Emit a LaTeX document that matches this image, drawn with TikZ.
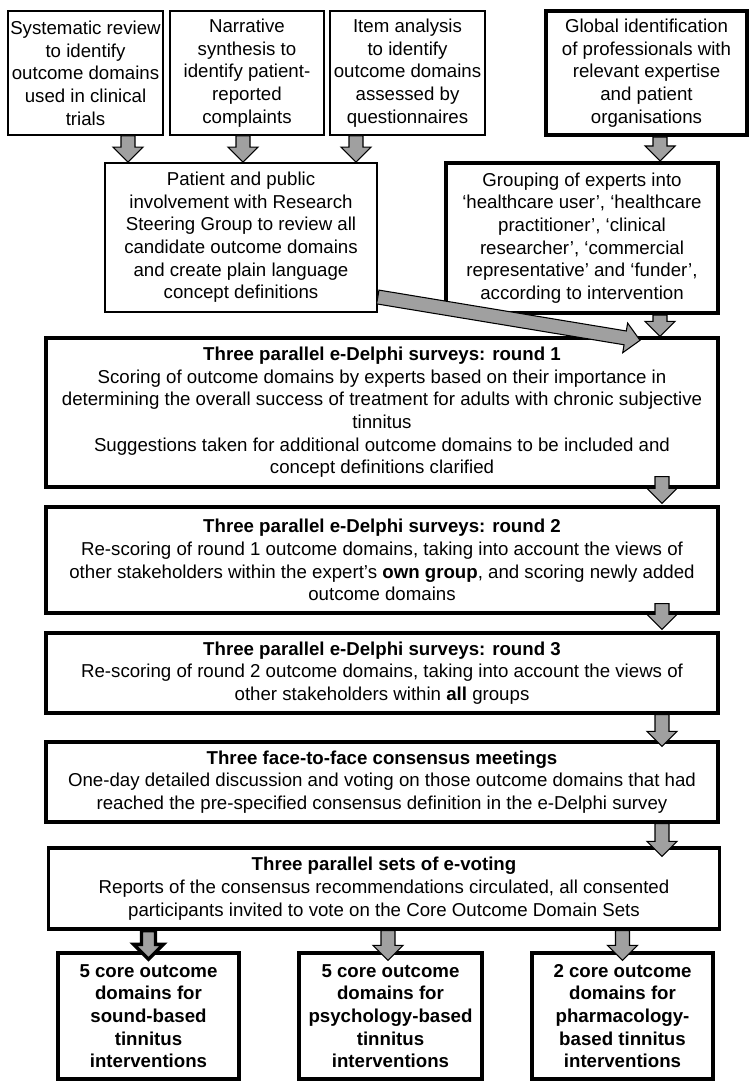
\documentclass[tikz,border=0pt]{standalone}
\usepackage{fontspec}
\setmainfont{Liberation Sans}
\usetikzlibrary{calc}
\definecolor{arrgray}{RGB}{160,160,160}

\begin{document}
\begin{tikzpicture}[x=0.75pt, y=-0.75pt,
    font=\fontsize{14}{17}\selectfont,
    thinbox/.style={draw, line width=1.2pt, align=center, inner sep=0pt, minimum width=#1},
    boldbox/.style={draw, line width=3pt, align=center, inner sep=0pt, minimum width=#1},
    stagebox/.style={draw, line width=2.5pt, align=center, inner sep=0pt, minimum width=#1},
    setbox/.style={draw, line width=2.5pt, align=center, inner sep=0pt, minimum width=#1,
        minimum height=94.5pt, font=\fontsize{14}{17}\selectfont\bfseries},
    blockarrow/.style={draw=black, fill=arrgray, line width=0.8pt, line join=miter,
        to path={let \p1=($(\tikztotarget)-(\tikztostart)$), \n1={atan2(\y1,\x1)},
            \n2={veclen(\x1,\y1)-11.25}, \n3={\n1+90}, \n4={\n1-90} in
            ($(\tikztostart)+(\n3:5.25pt)$)
            -- ($(\tikztostart)+(\n1:{\n2*1pt})+(\n3:5.25pt)$)
            -- ($(\tikztostart)+(\n1:{\n2*1pt})+(\n3:11.25pt)$)
            -- (\tikztotarget)
            -- ($(\tikztostart)+(\n1:{\n2*1pt})+(\n4:11.25pt)$)
            -- ($(\tikztostart)+(\n1:{\n2*1pt})+(\n4:5.25pt)$)
            -- ($(\tikztostart)+(\n4:5.25pt)$) -- cycle}}]
    \useasboundingbox (0,0) rectangle (755,1087);

    % Fonti per i domini
    \node[thinbox=116.25pt, minimum height=93pt] (sysrev) at (85.5,73) {Systematic review\\to identify\\outcome domains\\used in clinical\\trials};
    \node[thinbox=115.5pt, minimum height=93pt] (narr) at (247,73) {Narrative\\synthesis to\\identify patient-\\reported\\complaints};
    \node[thinbox=116.25pt, minimum height=93pt] (item) at (407.5,73) {Item analysis\\to identify\\outcome domains\\assessed by\\questionnaires};
    \node[boldbox=150.75pt, minimum height=93pt] (glob) at (646.5,73) {Global identification\\of professionals with\\relevant expertise\\and patient\\organisations};

    % Revisione e gruppi di esperti
    \node[thinbox=204pt, minimum height=111.75pt] (ppi) at (241,237.5) {Patient and public\\involvement with Research\\Steering Group to review all\\candidate outcome domains\\and create plain language\\concept definitions};
    \node[boldbox=204pt, minimum height=112.5pt] (group) at (582,238) {Grouping of experts into\\‘healthcare user’, ‘healthcare\\practitioner’, ‘clinical\\researcher’, ‘commercial\\representative’ and ‘funder’,\\according to intervention};

    % Fasi del consenso
    \node[stagebox=504pt, minimum height=111.75pt] (round1) at (382,412.5) {\textbf{Three parallel e-Delphi surveys: round 1}\\Scoring of outcome domains by experts based on their importance in\\determining the overall success of treatment for adults with chronic subjective\\tinnitus\\Suggestions taken for additional outcome domains to be included and\\concept definitions clarified};
    \node[stagebox=504pt, minimum height=79.5pt] (round2) at (382,560) {\textbf{Three parallel e-Delphi surveys: round 2}\\Re-scoring of round 1 outcome domains, taking into account the views of\\other stakeholders within the expert’s \textbf{own group}, and scoring newly added\\outcome domains};
    \node[stagebox=504pt, minimum height=60pt] (round3) at (382,673) {\textbf{Three parallel e-Delphi surveys: round 3}\\Re-scoring of round 2 outcome domains, taking into account the views of\\other stakeholders within \textbf{all} groups};
    \node[stagebox=504pt, minimum height=60pt] (meet) at (382,782) {\textbf{Three face-to-face consensus meetings}\\One-day detailed discussion and voting on those outcome domains that had\\reached the pre-specified consensus definition in the e-Delphi survey};
    \node[stagebox=503.25pt, minimum height=60.75pt] (vote) at (384,888.5) {\textbf{Three parallel sets of e-voting}\\Reports of the consensus recommendations circulated, all consented\\participants invited to vote on the Core Outcome Domain Sets};

    % Set finali
    \node[setbox=135.75pt] (sound) at (148.5,1016) {5 core outcome\\domains for\\sound-based\\tinnitus\\interventions};
    \node[setbox=137.25pt] (psych) at (390.5,1016) {5 core outcome\\domains for\\psychology-based\\tinnitus\\interventions};
    \node[setbox=135.75pt] (pharm) at (622.5,1016) {2 core outcome\\domains for\\pharmacology-\\based tinnitus\\interventions};

    % Frecce
    \draw[blockarrow] (sysrev.south -| 128,0) to (ppi.north -| 128,0);
    \draw[blockarrow] (narr.south -| 243,0) to (ppi.north -| 243,0);
    \draw[blockarrow] (item.south -| 356,0) to (ppi.north -| 356,0);
    \draw[blockarrow] (glob.south -| 660,0) to (group.north -| 660,0);
    \draw[blockarrow] (group.south -| 660,0) to (round1.north -| 660,0);
    \draw[blockarrow] (ppi.east |- 0,297) to ($(round1.north -| 640,0)+(0,4)$);
    \foreach \a/\b/\s/\t in {round1/round2/-12/-2, round2/round3/-11/-2, round3/meet/0/6, meet/vote/0/10}
        \draw[blockarrow] ($(\a.south -| 662,0)+(0,\s)$) to ($(\b.north -| 662,0)+(0,\t)$);
    \draw[blockarrow, line width=2.5pt] (vote.south -| sound.north) to ($(sound.north)+(0,8)$);
    \draw[blockarrow] (vote.south -| 388,0) to ($(psych.north -| 388,0)+(0,9)$);
    \draw[blockarrow] (vote.south -| pharm.north) to ($(pharm.north)+(0,9)$);
\end{tikzpicture}
\end{document}
